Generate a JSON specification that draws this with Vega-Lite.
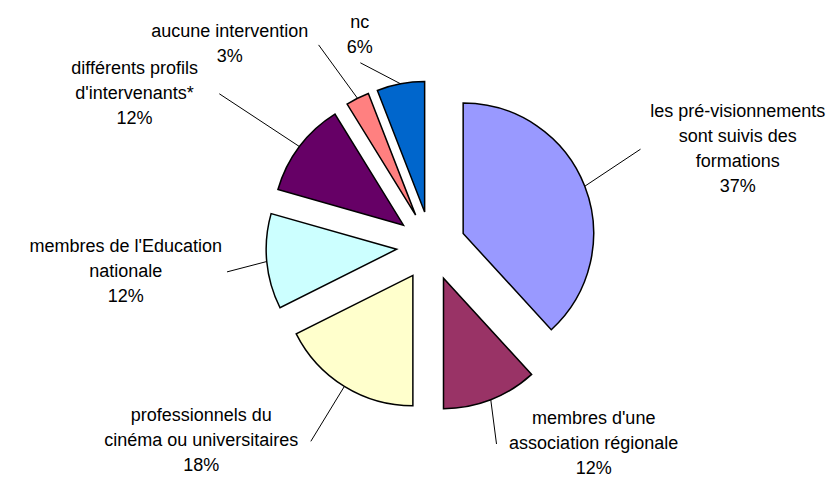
{
  "$schema": "https://vega.github.io/schema/vega-lite/v6.json",
  "width": 836,
  "height": 479,
  "autosize": "none",
  "padding": 0,
  "background": "white",
  "config": {"view": {"stroke": null}},
  "data": {
    "values": [
      {"label": "les pré-visionnements\nsont suivis des\nformations", "share": 38.2, "pct": 37},
      {"label": "membres d'une\nassociation régionale", "share": 11.8, "pct": 12},
      {"label": "professionnels du\ncinéma ou universitaires", "share": 17.6, "pct": 18},
      {"label": "membres de l'Education\nnationale", "share": 11.8, "pct": 12},
      {"label": "différents profils\nd'intervenants*", "share": 11.8, "pct": 12},
      {"label": "aucune intervention", "share": 2.9, "pct": 3},
      {"label": "nc", "share": 5.9, "pct": 6}
    ]
  },
  "transform": [
    {"window": [{"op": "sum", "field": "share", "as": "cum"}], "frame": [null, 0], "ignorePeers": true},
    {"joinaggregate": [{"op": "sum", "field": "share", "as": "total"}]},
    {"calculate": "(datum.cum - datum.share) / datum.total", "as": "t0"},
    {"calculate": "datum.cum / datum.total", "as": "t1"},
    {"calculate": "PI * (datum.t0 + datum.t1)", "as": "mid"},
    {"calculate": "sin(datum.mid)", "as": "s"},
    {"calculate": "cos(datum.mid)", "as": "c"},
    {"calculate": "34.5 * datum.s", "as": "ax"},
    {"calculate": "-34.5 * datum.c", "as": "ay"},
    {"calculate": "165 * datum.s", "as": "px"},
    {"calculate": "-165 * datum.c", "as": "py"},
    {"calculate": "datum.label + '\\n' + datum.pct + '%'", "as": "txt"},
    {"calculate": "length(split(datum.txt, '\\n'))", "as": "n"},
    {"calculate": "max(length(split(datum.label, '\\n')[0]), length(split(datum.label, '\\n')) > 1 ? length(split(datum.label, '\\n')[1]) : 0, length(split(datum.label, '\\n')) > 2 ? length(split(datum.label, '\\n')[2]) : 0, 3)", "as": "maxlen"},
    {"calculate": "305 * datum.s * (1 + 0.6 * datum.c * datum.c * min(1, 2.5 * abs(datum.s)))", "as": "lx"},
    {"calculate": "clamp(-212 * datum.c * (1 + 0.3 * datum.s * datum.s), -234 + (datum.n - 1) * 12.5, 223 - (datum.n - 1) * 12.5)", "as": "ly"},
    {"calculate": "datum.ly - (datum.n - 1) * 12.5", "as": "ty"},
    {"calculate": "clamp((abs(datum.s) - 0.18) * 6, 0, 1)", "as": "f"},
    {"calculate": "datum.lx - (datum.s > 0 ? 1 : -1) * (datum.maxlen * 4.15 + 10) * datum.f", "as": "qx"},
    {"calculate": "datum.ly + (datum.c > 0 ? 1 : -1) * (datum.n * 12.5 + 3) * (1 - datum.f)", "as": "qy"}
  ],
  "layer": [
    {
      "mark": {"type": "arc", "radius": 130.5, "stroke": "black", "strokeWidth": 1.5},
      "encoding": {
        "x": {"field": "ax", "type": "quantitative", "scale": {"domain": [-431, 405], "nice": false, "zero": false}, "axis": null},
        "y": {"field": "ay", "type": "quantitative", "scale": {"domain": [-246, 233], "reverse": true, "nice": false, "zero": false}, "axis": null},
        "theta": {"field": "t0", "type": "quantitative", "scale": {"domain": [0, 1], "range": [0, 6.283185307179586]}},
        "theta2": {"field": "t1"},
        "color": {
          "field": "label",
          "type": "nominal",
          "legend": null,
          "scale": {
            "domain": [
              "les pré-visionnements\nsont suivis des\nformations",
              "membres d'une\nassociation régionale",
              "professionnels du\ncinéma ou universitaires",
              "membres de l'Education\nnationale",
              "différents profils\nd'intervenants*",
              "aucune intervention",
              "nc"
            ],
            "range": ["#9999FF", "#993366", "#FFFFCC", "#CCFFFF", "#660066", "#FF8080", "#0066CC"]
          }
        }
      }
    },
    {
      "mark": {"type": "rule", "color": "black", "strokeWidth": 1},
      "encoding": {
        "x": {"field": "px", "type": "quantitative", "scale": {"domain": [-431, 405], "nice": false, "zero": false}, "axis": null},
        "y": {"field": "py", "type": "quantitative", "scale": {"domain": [-246, 233], "reverse": true, "nice": false, "zero": false}, "axis": null},
        "x2": {"field": "qx"},
        "y2": {"field": "qy"}
      }
    },
    {
      "mark": {"type": "text", "font": "Liberation Sans", "fontSize": 18, "lineBreak": "\n", "lineHeight": 25, "align": "center", "baseline": "middle", "color": "black"},
      "encoding": {
        "x": {"field": "lx", "type": "quantitative", "scale": {"domain": [-431, 405], "nice": false, "zero": false}, "axis": null},
        "y": {"field": "ty", "type": "quantitative", "scale": {"domain": [-246, 233], "reverse": true, "nice": false, "zero": false}, "axis": null},
        "text": {"field": "txt"}
      }
    }
  ]
}
